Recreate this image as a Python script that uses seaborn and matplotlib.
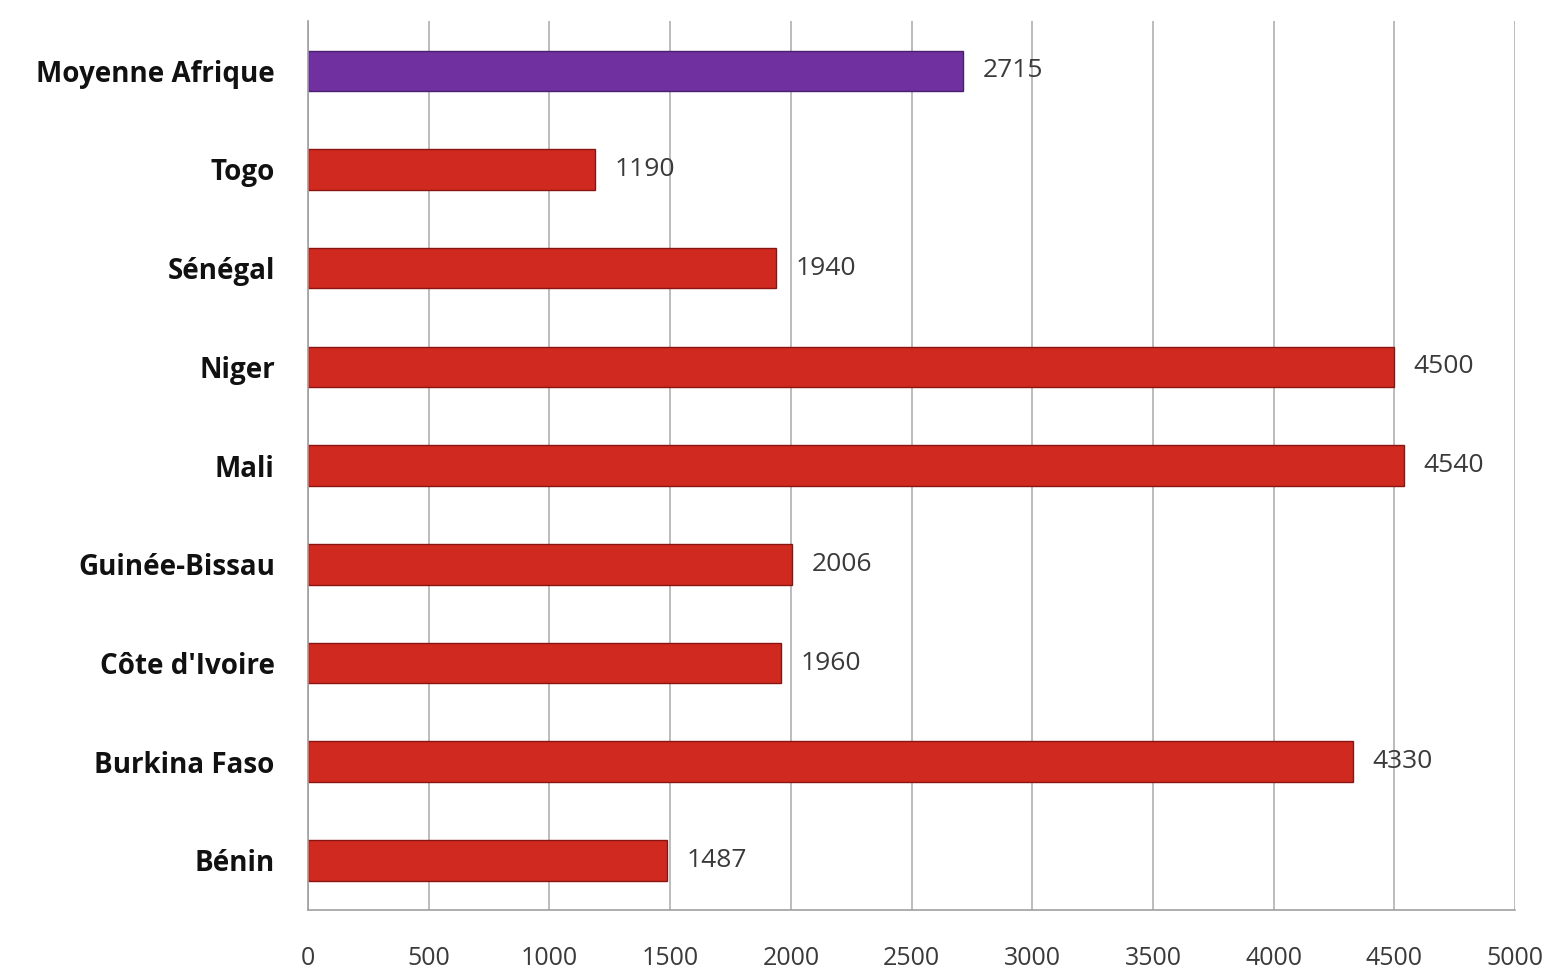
import pandas as pd
import matplotlib
matplotlib.use("Agg")
import matplotlib.pyplot as plt
import seaborn as sns

pays = ["Moyenne Afrique", "Togo", "Sénégal", "Niger", "Mali",
        "Guinée-Bissau", "Côte d'Ivoire", "Burkina Faso", "Bénin"]
valeurs = [2715, 1190, 1940, 4500, 4540, 2006, 1960, 4330, 1487]
groupe = ["moyenne"] + ["pays"] * 8
xticks = [0, 500, 1000, 1500, 2000, 2500, 3000, 3500, 4000, 4500, 5000]

df = pd.DataFrame({"pays": pays, "valeur": valeurs, "groupe": groupe})

sns.set_style("white")
plt.rcParams["font.family"] = ["Open Sans", "DejaVu Sans"]

fig = plt.figure(figsize=(15.56, 9.72), dpi=100)
ax = fig.add_axes([0.198, 0.064, 0.7757, 0.914])

sns.barplot(data=df, x="valeur", y="pays", hue="groupe", orient="h",
            palette={"moyenne": "#7030A0", "pays": "#CF2920"},
            saturation=1, width=0.41, dodge=False, legend=False, ax=ax,
            edgecolor="#8a1510", linewidth=1.0)
ax.patches[0].set_edgecolor("#4b1f70")

for cont in ax.containers:
    ax.bar_label(cont, labels=[f"{int(v)}" for v in cont.datavalues],
                 padding=14, fontsize=19, color="#3a3a3a")

ax.set_xlim(0, 5000)
ax.set_xticks(xticks)
ax.set_xticklabels([str(t) for t in xticks], fontsize=18, color="#3a3a3a")
ax.tick_params(axis="x", pad=20, length=6, color="#999999")
ax.tick_params(axis="y", length=0, pad=24)
for lab in ax.get_yticklabels():
    lab.set_fontweight("bold")
    lab.set_fontsize(20)
    lab.set_color("#111111")
ax.xaxis.grid(True, color="#b0b0b0", linewidth=1.2)
ax.set_axisbelow(True)
ax.set_xlabel("")
ax.set_ylabel("")
for side in ["top", "right"]:
    ax.spines[side].set_visible(False)
for side in ["left", "bottom"]:
    ax.spines[side].set_color("#a0a0a0")
    ax.spines[side].set_linewidth(1.2)

fig.savefig("out.png", dpi=100)
